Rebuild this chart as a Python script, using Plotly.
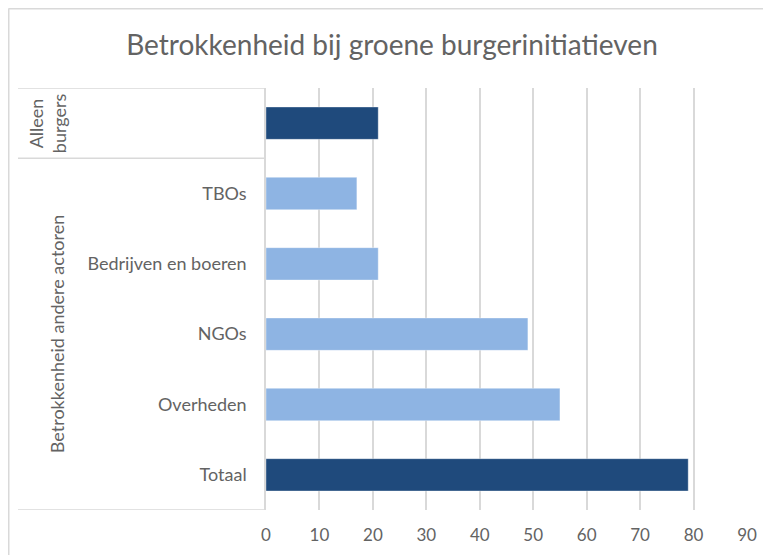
import plotly.graph_objects as go

# Data (bottom to top)
categories = ["Totaal", "Overheden", "NGOs", "Bedrijven en boeren", "TBOs", " "]
values = [79, 55, 49, 21, 17, 21]
groups = ["Betrokkenheid andere actoren"] * 5 + ["Alleen burgers"]
bar_colors = ["#1F4A7C", "#8EB4E3", "#8EB4E3", "#8EB4E3", "#8EB4E3", "#1F4A7C"]
x_ticks = [0, 10, 20, 30, 40, 50, 60, 70, 80, 90]
title_text = "Betrokkenheid bij groene burgerinitiatieven"

OFF = 8  # default page body margin
W, H = 771, 555 - OFF
L, T, B = 266 - OFF, 88 - OFF, 45
R = W - (747 - OFF)
pw = W - L - R
ph = H - T - B

def px(p):  # screen px -> paper x
    return (p - OFF - L) / pw

def py(q):  # screen px -> paper y
    return (H - B - (q - OFF)) / ph

GRID = "#d9d9d9"
TXT = "#636363"
FONT = "Lato, Carlito, Calibri, sans-serif"

fig = go.Figure()
fig.add_trace(go.Bar(
    x=values, y=categories, orientation="h",
    marker=dict(color=bar_colors, line=dict(color="rgba(255,255,255,0.35)", width=1)),
    width=0.46, hoverinfo="x+y",
))

shapes = []
for yv in [len(categories) - 0.5, len(categories) - 1.5, -0.5]:
    shapes.append(dict(type="line", xref="paper", yref="y", x0=px(18), x1=0, y0=yv, y1=yv,
                       line=dict(color=GRID, width=1.5)))
shapes.append(dict(type="line", xref="paper", yref="paper", x0=px(8.5), x1=px(8.5), y0=py(8.5), y1=py(570),
                   line=dict(color=GRID, width=2)))
shapes.append(dict(type="line", xref="paper", yref="paper", x0=px(8.5), x1=px(800), y0=py(8.5), y1=py(8.5),
                   line=dict(color=GRID, width=2)))

annotations = [
    dict(text="Alleen<br>burgers", xref="paper", yref="y", x=px(47), y=len(categories) - 1,
         textangle=-90, showarrow=False, font=dict(family=FONT, size=18, color=TXT),
         xanchor="center", yanchor="middle"),
    dict(text=groups[0], xref="paper", yref="y", x=px(57), y=2,
         textangle=-90, showarrow=False, font=dict(family=FONT, size=18, color=TXT),
         xanchor="center", yanchor="middle"),
]

fig.update_layout(
    width=W, height=H,
    margin=dict(l=L, r=R, t=T, b=B, autoexpand=False),
    paper_bgcolor="white", plot_bgcolor="white",
    title=dict(text=title_text, x=(392 - OFF) / W, xref="container", y=1 - (45 - OFF) / H, yref="container",
               xanchor="center", yanchor="middle", font=dict(family=FONT, size=28, color=TXT)),
    showlegend=False,
    shapes=shapes,
    annotations=annotations,
    xaxis=dict(range=[0, 90], tickvals=x_ticks, showgrid=True, gridcolor=GRID, gridwidth=2,
               zeroline=False, showline=False, ticks="", ticklabelstandoff=13,
               tickfont=dict(family=FONT, size=17, color=TXT), fixedrange=True),
    yaxis=dict(type="category", categoryorder="array", categoryarray=categories,
               range=[-0.5, len(categories) - 0.5],
               showline=True, linecolor=GRID, linewidth=1.5, showgrid=False, ticks="",
               ticklabelstandoff=14, tickfont=dict(family=FONT, size=18, color=TXT), fixedrange=True),
)

fig.write_html("out.html")
